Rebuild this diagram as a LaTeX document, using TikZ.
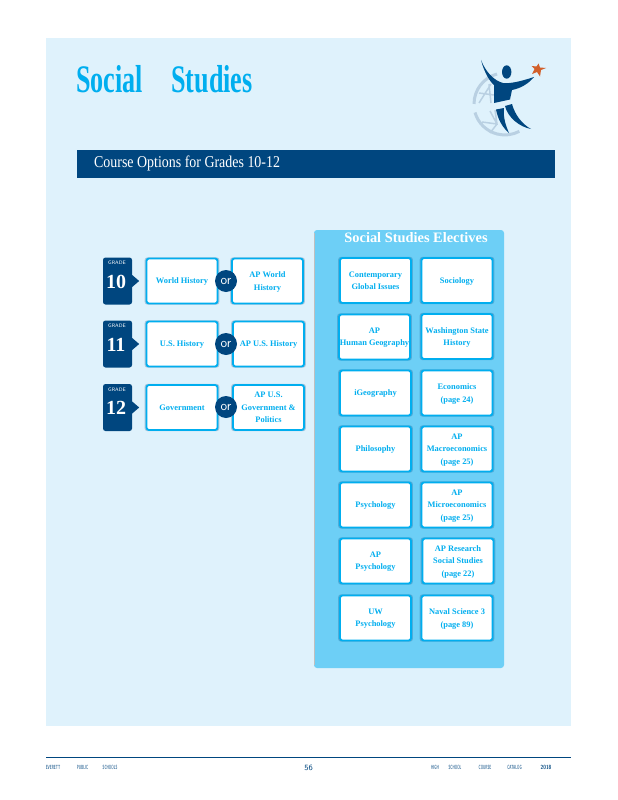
\documentclass[tikz,border=0pt]{standalone}
\usepackage{fontspec}
\setmainfont{Liberation Serif}
\usetikzlibrary{shadows}
\definecolor{pagebg}{HTML}{DFF2FC}
\definecolor{navy}{HTML}{00467F}
\definecolor{cyanline}{HTML}{00AEEF}
\definecolor{panelblue}{HTML}{6DCFF6}
\definecolor{globegrey}{HTML}{B9D0E2}
\definecolor{starred}{HTML}{D2602B}
\tikzset{
  course/.style={draw=cyanline,fill=white,line width=1.8pt,rounded corners=2.5pt,
    minimum width=71pt,minimum height=45pt,inner sep=0pt,align=center,text=cyanline,text depth=-1.5pt,
    font=\fontsize{8.4}{12.4}\selectfont\bfseries,
    general shadow={fill=navy,opacity=.25,shadow scale=1.05}},
  gradetag/.style={fill=navy,rounded corners=2.5pt,minimum width=29pt,minimum height=47pt,inner sep=0pt},
  ornode/.style={circle,fill=navy,minimum size=22pt,inner sep=0pt,text=white,
    font=\fontsize{13.5}{13.5}\selectfont\sffamily},
  gradeword/.style={text=white,inner sep=0pt,font=\fontsize{5}{5}\selectfont\sffamily},
  gradenum/.style={text=white,inner sep=0pt,font=\fontsize{20}{20}\selectfont\bfseries},
  foot/.style={text=navy!75,inner sep=0pt,xscale=.5,font=\fontsize{6}{6}\selectfont\sffamily\bfseries},
}
\begin{document}
\begin{tikzpicture}[x=1pt,y=-1pt]
   \useasboundingbox (0,0) rectangle (618,800);
   \fill[pagebg] (46,38) rectangle (571,726);

   % heading
   \node[text=cyanline,inner sep=0pt,xscale=.67,font=\fontsize{39}{39}\selectfont\bfseries] (word1) at (109.5,79) {Social};
   \node[text=cyanline,inner sep=0pt,xscale=.67,font=\fontsize{39}{39}\selectfont\bfseries] (word2) at (212,79) {Studies};
   \node[fill=navy,minimum width=478pt,minimum height=28pt,inner sep=0pt] (bar) at (316,164) {};
   \node[text=white,inner sep=0pt,xscale=.845,font=\fontsize{16.5}{17}\selectfont,anchor=west] (bartext) at (94,163) {Course Options for Grades 10-12};

   % logo
   \draw[globegrey,line width=3pt] (497,74) arc (255:180:31);
   \draw[globegrey,line width=3pt] (475,112.5) arc (164:62:31);
   \draw[globegrey,line width=1.5pt] (491,84) -- (479,103) (489,84) -- (491,103) (479,93) -- (494,95);
   \draw[globegrey,line width=1.5pt] (490,111) -- (497,124) -- (490,133) (482,122) -- (497,124) -- (495,110);
   \fill[navy] (481,60) .. controls (484,72) and (490,82) .. (494,85) -- (494,103) -- (510,99.5) -- (512,90) .. controls (522,88) and (529,83) .. (534,77) .. controls (522,81) and (510,84) .. (503,83) .. controls (495,81) and (486,73) .. (481,60) -- cycle;
   \fill[navy] (506.7,72) ellipse (4.7 and 6.7);
   \fill[navy] (496,109.5) -- (504,108) .. controls (503,118) and (506,126) .. (509,133) .. controls (503,128) and (498,120) .. (496,109.5) -- cycle;
   \fill[navy] (505,106) -- (512,104) .. controls (515,115) and (522,124) .. (531,129) .. controls (520,127) and (508,118) .. (505,106) -- cycle;
   \fill[starred] (538.5,63.5) -- (540,67.5) -- (546,68) -- (541,70) -- (540,76.5) -- (537,72) -- (532,74) -- (534.5,69) -- (531.5,66) -- (536.5,66.5) -- cycle;

   % grades
   \node[gradetag] (g10) at (117.5,281) {};
   \node[gradetag] (g11) at (117.5,344) {};
   \node[gradetag] (g12) at (117.5,407.5) {};
   \fill[navy] ([yshift=-6pt]g10.east) -- ([xshift=7pt]g10.east) -- ([yshift=6pt]g10.east) -- cycle;
   \fill[navy] ([yshift=-6pt]g11.east) -- ([xshift=7pt]g11.east) -- ([yshift=6pt]g11.east) -- cycle;
   \fill[navy] ([yshift=-6pt]g12.east) -- ([xshift=7pt]g12.east) -- ([yshift=6pt]g12.east) -- cycle;
   \node[gradeword] (w10) at (117,263) {GRADE};
   \node[gradeword] (w11) at (117,326) {GRADE};
   \node[gradeword] (w12) at (117,390) {GRADE};
   \node[gradenum] (n10) at (116,282) {10};
   \node[gradenum] (n11) at (116,345) {11};
   \node[gradenum] (n12) at (116,408) {12};

   % required courses
   \node[course] (a1) at (182,281) {World History};
   \node[course] (b1) at (267.5,281) {AP World\\History};
   \node[course] (a2) at (182,344) {U.S. History};
   \node[course] (b2) at (268.5,344) {AP U.S. History};
   \node[course] (a3) at (182,407.5) {Government};
   \node[course] (b3) at (268.5,407.5) {AP U.S.\\Government \&\\Politics};
   \node[ornode] (or1) at (226,281) {or};
   \node[ornode] (or2) at (226,344) {or};
   \node[ornode] (or3) at (226,407) {or};

   % electives
   \fill[panelblue,rounded corners=3pt] (314,230) rectangle (504,668);
   \draw[black!25,line width=.6pt] (314,233) -- (314,665);
   \node[text=white,inner sep=0pt,font=\fontsize{14.4}{14}\selectfont\bfseries] (eltitle) at (416,238) {Social Studies Electives};
   \node[course] (e1) at (375.5,280.5) {Contemporary\\Global Issues};
   \node[course] (f1) at (457,280.5) {Sociology};
   \node[course] (e2) at (374.5,337) {AP\\Human Geography};
   \node[course] (f2) at (457,336.5) {Washington State\\History};
   \node[course] (e3) at (375.5,393) {iGeography};
   \node[course] (f3) at (457,393) {Economics\\(page 24)};
   \node[course] (e4) at (375.5,449) {Philosophy};
   \node[course] (f4) at (457,449) {AP\\Macroeconomics\\(page 25)};
   \node[course] (e5) at (375.5,505) {Psychology};
   \node[course] (f5) at (457,505) {AP\\Microeconomics\\(page 25)};
   \node[course] (e6) at (375.5,561) {AP\\Psychology};
   \node[course] (f6) at (458,561) {AP Research\\Social Studies\\(page 22)};
   \node[course] (e7) at (375.5,618) {UW\\Psychology};
   \node[course] (f7) at (457,618) {Naval Science 3\\(page 89)};

   % footer
   \draw[navy,line width=1pt] (46,757) -- (571,757);
   \node[foot] (t1) at (53,767) {EVERETT};
   \node[foot] (t2) at (82.5,767) {PUBLIC};
   \node[foot] (t3) at (110,767) {SCHOOLS};
   \node[text=navy,inner sep=0pt,font=\fontsize{8}{8}\selectfont\sffamily] (pg) at (308.5,767.5) {56};
   \node[foot] (t4) at (435,767) {HIGH};
   \node[foot] (t5) at (455,767) {SCHOOL};
   \node[foot] (t6) at (485,767) {COURSE};
   \node[foot] (t7) at (514.5,767) {CATALOG};
   \node[foot,text=navy,xscale=1.6] (t8) at (546,767) {2018};
\end{tikzpicture}
\end{document}
